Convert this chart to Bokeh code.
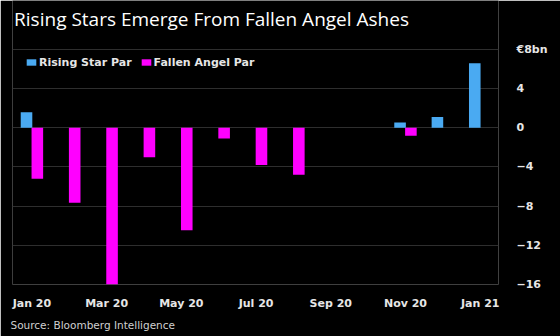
from bokeh.plotting import figure
from bokeh.models import (FixedTicker, LinearAxis, Title, Label, Legend, LegendItem,
                          ColumnDataSource, Range1d)
from bokeh.embed import file_html
from bokeh.resources import INLINE

months = ["Jan 20", "Feb 20", "Mar 20", "Apr 20", "May 20", "Jun 20", "Jul 20",
          "Aug 20", "Sep 20", "Oct 20", "Nov 20", "Dec 20", "Jan 21"]
rising_star = [1.6, 0, 0, 0, 0, 0, 0, 0, 0, 0, 0.55, 1.1, 6.6]
fallen_angel = [-5.2, -7.65, -16.0, -3.0, -10.45, -1.1, -3.8, -4.8, 0, 0, -0.8, 0, 0]
y_ticks = [-16, -12, -8, -4, 0, 4, 8]
x_tick_labels = ["Jan 20", "Mar 20", "May 20", "Jul 20", "Sep 20", "Nov 20", "Jan 21"]
title_text = "Rising Stars Emerge From Fallen Angel Ashes"
source_text = "Source: Bloomberg Intelligence"

BLUE = "#4aaaf2"
PINK = "#ff00ff"
BG = "#000000"
GRID = "#2e2e2e"
TXT = "#e6e6e6"

idx = list(range(len(months)))
rs_src = ColumnDataSource(dict(x=[i - 0.145 for i, v in zip(idx, rising_star) if v != 0],
                               top=[v for v in rising_star if v != 0]))
fa_src = ColumnDataSource(dict(x=[i + 0.145 for i, v in zip(idx, fallen_angel) if v != 0],
                               top=[v for v in fallen_angel if v != 0]))

x_start, x_end = -0.52, 12.49
y_lo, y_hi = min(y_ticks), max(y_ticks)
y_view_top = 13.0   # leaves headroom above the plot for the title
p = figure(width=560, height=336, output_backend="svg", toolbar_location=None,
           x_range=Range1d(x_start, x_end), y_range=Range1d(y_lo, y_view_top),
           background_fill_color=BG, border_fill_color=BG, outline_line_color=None,
           min_border_left=12, min_border_right=62, min_border_top=0, min_border_bottom=52)

r1 = p.vbar(x="x", top="top", bottom=0, width=0.31, source=rs_src, fill_color=BLUE, line_color=None)
r2 = p.vbar(x="x", top="top", bottom=0, width=0.31, source=fa_src, fill_color=PINK, line_color=None)

# left frame line spanning the value range
p.segment(x0=[x_start], x1=[x_start], y0=[y_lo], y1=[y_hi], line_color="#3a3a3a", line_width=1)

# x axis
p.xaxis.ticker = FixedTicker(ticks=[2 * k for k in range(len(x_tick_labels))])
p.xaxis.major_label_overrides = {2 * k: lab for k, lab in enumerate(x_tick_labels)}
p.xaxis.axis_line_color = None
p.xaxis.major_tick_line_color = None
p.xaxis.minor_tick_line_color = None
p.xaxis.major_label_text_color = TXT
p.xaxis.major_label_text_font = "DejaVu Sans"
p.xaxis.major_label_text_font_style = "bold"
p.xaxis.major_label_text_font_size = "11px"
p.xaxis.major_label_standoff = 6

# y axis on right
p.yaxis.visible = False
ya = LinearAxis(ticker=FixedTicker(ticks=y_ticks))
ya.major_label_overrides = {8: "€8bn"}
ya.axis_line_color = None
ya.major_tick_line_color = None
ya.minor_tick_line_color = None
ya.major_label_text_color = TXT
ya.major_label_text_font = "DejaVu Sans"
ya.major_label_text_font_style = "bold"
ya.major_label_text_font_size = "11px"
ya.major_label_standoff = 12
p.add_layout(ya, "right")

p.xgrid.visible = False
p.ygrid.ticker = FixedTicker(ticks=y_ticks)
p.ygrid.grid_line_color = GRID
p.ygrid.grid_line_width = 1

legend = Legend(items=[LegendItem(label="Rising Star Par", renderers=[r1]),
                       LegendItem(label="Fallen Angel Par", renderers=[r2])],
                location=(13, 215.5), orientation="horizontal",
                background_fill_alpha=0, border_line_color=None,
                label_text_color=TXT, label_text_font="DejaVu Sans",
                label_text_font_style="bold", label_text_font_size="11px",
                glyph_width=12, glyph_height=8, label_height=8, label_standoff=2,
                spacing=8, padding=0, margin=0)
p.add_layout(legend)

p.add_layout(Label(x=1.6, y=265.4, x_units="screen", y_units="screen", text=title_text,
                   text_color="#ffffff", text_font="Open Sans", text_font_size="19px",
                   text_baseline="alphabetic", text_align="left"))

src = Title(text=source_text, text_color="#d0d0d0",
            text_font="DejaVu Sans", text_font_style="normal", text_font_size="10.5px",
            offset=-2, standoff=8)
p.add_layout(src, "below")

open("out.html", "w").write(file_html(p, INLINE))
